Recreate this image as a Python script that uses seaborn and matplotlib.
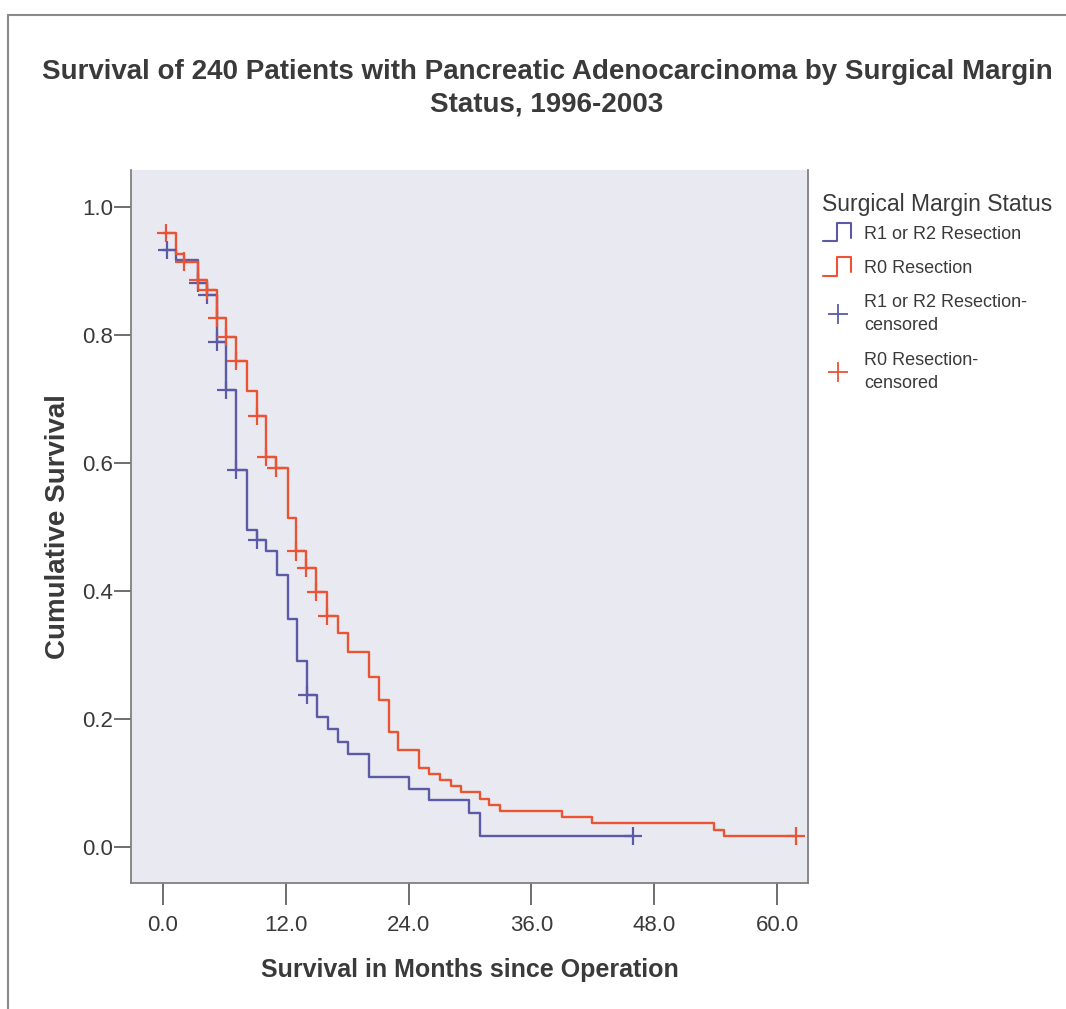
import numpy as np
import pandas as pd
import matplotlib
matplotlib.use("Agg")
import matplotlib.pyplot as plt
from matplotlib.lines import Line2D
from matplotlib.patches import Rectangle
from matplotlib.legend_handler import HandlerBase
import seaborn as sns

# ---------------- data ----------------
r12_times = [0, 1.3, 3.4, 4.3, 5.3, 6.2, 7.2, 8.2, 9.2, 10.1, 11.2, 12.2, 13.1, 14.1,
             15.1, 16.1, 17.1, 18.1, 20.1, 24.0, 26.0, 29.9, 31.0, 45.9]
r12_surv = [0.933, 0.918, 0.881, 0.863, 0.790, 0.714, 0.590, 0.495, 0.480, 0.462, 0.426,
            0.357, 0.291, 0.238, 0.204, 0.184, 0.165, 0.146, 0.110, 0.091, 0.073, 0.054,
            0.018, 0.018]
r0_times = [0, 1.3, 2.1, 3.4, 4.3, 5.3, 6.2, 7.2, 8.2, 9.2, 10.1, 11.1, 12.2, 13.0, 14.0,
            15.0, 16.05, 17.1, 18.1, 20.1, 21.1, 22.1, 23.0, 25.0, 26.0, 27.05, 28.1, 29.1,
            31.0, 31.9, 32.9, 39.0, 41.9, 53.8, 54.8, 61.8]
r0_surv = [0.959, 0.927, 0.915, 0.886, 0.871, 0.827, 0.797, 0.759, 0.713, 0.673, 0.610,
           0.592, 0.514, 0.462, 0.436, 0.399, 0.361, 0.334, 0.305, 0.266, 0.230, 0.180,
           0.152, 0.124, 0.115, 0.105, 0.095, 0.086, 0.076, 0.066, 0.057, 0.047, 0.038,
           0.027, 0.017, 0.017]
r12_cens_t = [0.4, 3.4, 4.3, 5.3, 6.2, 7.2, 9.2, 14.1, 45.9]
r12_cens_s = [0.933, 0.881, 0.863, 0.790, 0.714, 0.590, 0.480, 0.238, 0.018]
r0_cens_t = [0.3, 2.1, 3.4, 4.3, 5.3, 6.2, 7.2, 9.2, 10.1, 11.1, 13.0, 14.0, 15.0, 16.05, 61.8]
r0_cens_s = [0.959, 0.915, 0.886, 0.871, 0.827, 0.797, 0.759, 0.673, 0.610, 0.592, 0.462,
             0.436, 0.399, 0.361, 0.017]

groups = ["R1 or R2 Resection", "R0 Resection"]
x_ticks = [0.0, 12.0, 24.0, 36.0, 48.0, 60.0]
y_ticks = [0.0, 0.2, 0.4, 0.6, 0.8, 1.0]

title = "Survival of 240 Patients with Pancreatic Adenocarcinoma by Surgical Margin\nStatus, 1996-2003"
xlabel = "Survival in Months since Operation"
ylabel = "Cumulative Survival"
legend_title = "Surgical Margin Status"
legend_labels = ["R1 or R2 Resection", "R0 Resection",
                 "R1 or R2 Resection-\ncensored", "R0 Resection-\ncensored"]

BLUE = "#5a5aa6"
RED = "#ea5434"
palette = {groups[0]: BLUE, groups[1]: RED}

curves = pd.concat([
    pd.DataFrame({"t": r12_times, "s": r12_surv, "g": groups[0]}),
    pd.DataFrame({"t": r0_times, "s": r0_surv, "g": groups[1]}),
], ignore_index=True)
cens = pd.concat([
    pd.DataFrame({"t": r12_cens_t, "s": r12_cens_s, "g": groups[0]}),
    pd.DataFrame({"t": r0_cens_t, "s": r0_cens_s, "g": groups[1]}),
], ignore_index=True)

# ---------------- style ----------------
sns.set_theme(style="white")
FONT = ["Liberation Sans", "DejaVu Sans"]
plt.rcParams["font.family"] = FONT
TXT = "#3a3a3a"

W, H = 1066, 1009
fig = plt.figure(figsize=(W / 100, H / 100), dpi=100)
fig.patch.set_facecolor("white")

ax = fig.add_axes([131 / W, 1 - 883 / H, (808 - 131) / W, (883 - 170) / H])
ax.set_facecolor("#e9e9f1")

sns.lineplot(data=curves, x="t", y="s", hue="g", palette=palette, ax=ax,
             drawstyle="steps-post", linewidth=1.7, estimator=None, sort=False,
             legend=False)
sns.scatterplot(data=cens, x="t", y="s", hue="g", palette=palette, ax=ax,
                marker="+", s=170, linewidth=1.6, legend=False, zorder=3)

ax.set_xlim(-3.1, 63.0)
ax.set_ylim(-0.056, 1.058)
ax.set_xticks(x_ticks)
ax.set_xticklabels([f"{v:.1f}" for v in x_ticks])
ax.set_yticks(y_ticks)
ax.set_yticklabels([f"{v:.1f}" for v in y_ticks])
ax.tick_params(axis="x", which="major", labelsize=16, length=16, width=1.2,
               color="#555555", labelcolor=TXT, direction="out", bottom=True, pad=7)
ax.tick_params(axis="y", which="major", labelsize=16, length=12, width=1.2,
               color="#555555", labelcolor=TXT, direction="out", left=True, pad=1)
ax.spines["top"].set_visible(False)
for side in ["left", "bottom", "right"]:
    ax.spines[side].set_color("#808080")
    ax.spines[side].set_linewidth(1.3)

ax.set_xlabel(xlabel, fontsize=18, fontweight="bold", color=TXT, labelpad=16)
ax.set_ylabel(ylabel, fontsize=20, fontweight="bold", color=TXT, labelpad=8)

fig.text(547 / W, 1 - 88 / H, title, ha="center", va="center", fontsize=20,
         fontweight="bold", color=TXT, linespacing=1.3)

# outer frame
fig.add_artist(Rectangle((8 / W, -0.05), 1.2, 1 - 15 / H + 0.05, transform=fig.transFigure,
                         fill=False, edgecolor="#8a8a8a", linewidth=1.5))


class StepHandler(HandlerBase):
    def create_artists(self, legend, orig_handle, xdescent, ydescent, width, height,
                       fontsize, trans):
        x0, y0 = -xdescent, -ydescent
        w, h = width, height * 1.5
        xs = [x0 + 0.0 * w, x0 + 0.45 * w, x0 + 0.45 * w, x0 + 0.9 * w, x0 + 0.9 * w]
        ys = [y0 - 0.15 * h, y0 - 0.15 * h, y0 + 0.85 * h, y0 + 0.85 * h, y0 + 0.05 * h]
        ln = Line2D(xs, ys, color=orig_handle.get_color(), linewidth=1.5, transform=trans)
        return [ln]


# legend title drawn as its own text, entries below it
fig.text(822 / W, 1 - 204 / H, legend_title, ha="left", va="center", fontsize=16.5,
         color=TXT)

handles = [
    Line2D([], [], color=BLUE),
    Line2D([], [], color=RED),
    Line2D([], [], color=BLUE, marker="+", linestyle="none", markersize=15, markeredgewidth=1.3),
    Line2D([], [], color=RED, marker="+", linestyle="none", markersize=15, markeredgewidth=1.3),
]
leg = fig.legend(handles, legend_labels, loc="upper left",
                 bbox_to_anchor=(810 / W, 1 - 213 / H), frameon=False, fontsize=13,
                 handler_map={handles[0]: StepHandler(), handles[1]: StepHandler()},
                 handlelength=1.75, handletextpad=0.55, labelspacing=0.95,
                 borderpad=0.2, alignment="left")
for t in leg.get_texts():
    t.set_color(TXT)
    t.set_linespacing(1.5)

fig.savefig("out.png", dpi=100)
